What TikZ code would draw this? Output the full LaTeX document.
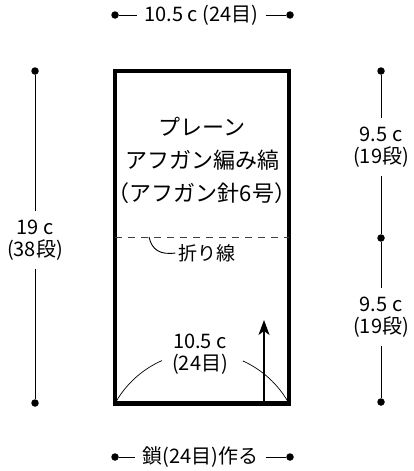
\documentclass[tikz,border=0pt]{standalone}
\usepackage{fontspec}
\setmainfont{Noto Sans CJK JP}
\usetikzlibrary{arrows.meta}

\tikzset{
  dimdot/.style={circle,fill=black,inner sep=0pt,minimum size=7.5pt},
  dimlbl/.style={inner xsep=7pt,inner ysep=9pt,align=center,font=\fontsize{20pt}{22pt}\selectfont},
  dimline/.style={line width=0.9pt},
}

\begin{document}
\begin{tikzpicture}[x=1pt,y=-1pt]
\useasboundingbox (0,0) rectangle (413,471);

% piece
\coordinate (rectnw) at (115,71);
\coordinate (rectsw) at (115,403.5);
\coordinate (rectse) at (289,403.5);
\draw[line width=4.8pt] (rectnw) rectangle (rectse);

\coordinate (foldw) at (115,237);
\coordinate (folde) at (289,237);
\draw[line width=0.9pt,black!75,dash pattern=on 7pt off 6pt] (foldw) -- (folde);

\node[align=center,font=\fontsize{22pt}{33pt}\selectfont] (title) at (202,160) {プレーン\\アフガン編み縞\\（アフガン針6号）};

\coordinate (foldpt) at (149,237);
\node[font=\fontsize{19pt}{20pt}\selectfont,inner sep=3pt] (foldlbl) at (207,253) {折り線};
\draw[dimline] (foldpt) .. controls (152,250) and (160,255) .. (foldlbl.west);

% width at the cast-on edge
\node[align=center,font=\fontsize{20pt}{22pt}\selectfont] (widthlbl) at (200,354) {10.5 c\\(24目)};
\draw[line width=0.7pt] (rectsw) arc[start angle=208.9,end angle=246.3,radius=99.4];
\draw[line width=0.7pt] (rectse) arc[start angle=331.1,end angle=294.3,radius=99.4];

\coordinate (rowbase) at (264,403.5);
\coordinate (rowtip) at (264,320);
\draw[line width=1.1pt,-{Stealth[length=15pt,width=11pt,inset=4pt]}] (rowbase) -- (rowtip);

% top
\node[dimdot] (topl) at (115,15) {};
\node[dimdot] (topr) at (290,15) {};
\node[dimlbl] (toplbl) at (201.5,15) {10.5 c (24目)};
\draw[dimline] (topl) -- (toplbl);
\draw[dimline] (toplbl) -- (topr);

% left
\node[dimdot] (lt) at (35,71) {};
\node[dimdot] (lb) at (35,403) {};
\node[dimlbl] (leftlbl) at (35,240) {19 c\\(38段)};
\draw[dimline] (lt) -- (leftlbl);
\draw[dimline] (leftlbl) -- (lb);

% right
\node[dimdot] (rt) at (381,71) {};
\node[dimdot] (rm) at (381,238) {};
\node[dimdot] (rb) at (381,402) {};
\node[dimlbl] (rightup) at (381,147) {9.5 c\\(19段)};
\node[dimlbl] (rightlow) at (381,317) {9.5 c\\(19段)};
\draw[dimline] (rt) -- (rightup);
\draw[dimline] (rightup) -- (rm);
\draw[dimline] (rm) -- (rightlow);
\draw[dimline] (rightlow) -- (rb);

% bottom
\node[dimdot] (botl) at (115,457) {};
\node[dimdot] (botr) at (290,457) {};
\node[dimlbl] (botlbl) at (200.5,457) {鎖(24目)作る};
\draw[dimline] (botl) -- (botlbl);
\draw[dimline] (botlbl) -- (botr);

\end{tikzpicture}
\end{document}
